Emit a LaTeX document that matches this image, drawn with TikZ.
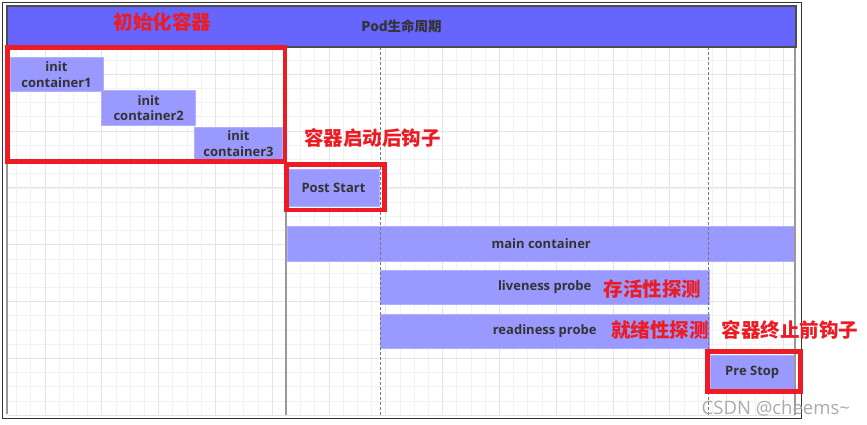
\documentclass[tikz,border=0pt]{standalone}
\usepackage{fontspec}
\setmainfont{Open Sans}
\newfontfamily\barfont{Open Sans}[BoldFont={* Bold}]
\newfontfamily\cjk{Noto Sans CJK SC}
\definecolor{gridminor}{HTML}{F2F2F2}
\definecolor{gridmajor}{HTML}{E4E4E4}
\definecolor{framegrey}{HTML}{333333}
\definecolor{hdrfill}{HTML}{6666FF}
\definecolor{hdrline}{HTML}{4D4D4D}
\definecolor{barfill}{HTML}{9999FF}
\definecolor{barline}{HTML}{B0B0FF}
\definecolor{txtgrey}{HTML}{333333}
\definecolor{vgrey}{HTML}{999999}
\definecolor{dgrey}{HTML}{777777}
\definecolor{redmark}{HTML}{ED1C24}
\definecolor{wmgrey}{HTML}{ABABAB}
\tikzset{
  minorline/.style={gridminor, line width=0.8},
  majorline/.style={gridmajor, line width=1},
  vsolid/.style={vgrey, line width=1.2},
  vdash/.style={dgrey, line width=0.9, dash pattern=on 3pt off 2pt},
  barbox/.style={draw=barline, fill=barfill, line width=0.6, inner sep=0pt,
    text=txtgrey, align=center, font=\barfont\bfseries\fontsize{13}{15.7}\selectfont},
  redbox/.style={draw=redmark, line width=4.7},
  redtext/.style={text=redmark, inner sep=0pt, font=\cjk\bfseries\fontsize{19.5}{21}\selectfont}
}
\begin{document}
\begin{tikzpicture}[x=1pt,y=-1pt]
\useasboundingbox (0,0) rectangle (867,425);
\fill[white] (0,0) rectangle (867,425);
% grid
\begin{scope}
\clip (7,47) rectangle (795,415);
\foreach \i in {0,...,55} {\draw[minorline] ({16.6+14.2*\i},47) -- ++(0,370);}
\foreach \i in {0,...,25} {\draw[minorline] (7,{60.1+14.2*\i}) -- ++(790,0);}
\foreach \i in {0,...,13} {\draw[majorline] ({45+56.8*\i},47) -- ++(0,370);}
\foreach \i in {0,...,6} {\draw[majorline] (7,{74.3+56.8*\i}) -- ++(790,0);}
\end{scope}
% outer frame
\draw[framegrey, line width=1] (2.3,2.7) rectangle (801,418);
% solid vertical lines
\draw[vsolid] (7,47) -- (7,414);
\draw[vsolid] (286,47) -- (286,415);
% bars
\node[barbox, minimum width=93, minimum height=34] (init1) at (56.5,74.5) {init\\container1};
\node[barbox, minimum width=94, minimum height=35] (init2) at (148.7,108) {init\\container2};
\node[barbox, minimum width=88.4, minimum height=32] (init3) at (238.5,143.5) {init\\container3};
\node[barbox, minimum width=91, minimum height=36.7] (post) at (333.5,187.8) {Post Start};
\node[barbox, minimum width=507.7, minimum height=35.3] (main) at (541.2,243.8) {main container};
\node[barbox, minimum width=329.3, minimum height=34.7] (live) at (544.7,287.2) {liveness probe};
\node[barbox, minimum width=329.3, minimum height=34.4] (ready) at (544.7,331) {readiness probe};
\node[barbox, minimum width=84.3, minimum height=34.3] (prestop) at (752.2,372.7) {Pre Stop};
% dashed & right lines on top
\draw[vdash] (380,47) -- (380,415);
\draw[vdash] (708.3,47) -- (708.3,415);
\draw[vsolid] (795,47) -- (795,415);
% header
\node[draw=hdrline, fill=hdrfill, line width=1.2, minimum width=789, minimum height=41, inner sep=0pt,
  text=txtgrey, font=\cjk\bfseries\fontsize{13.5}{15}\selectfont] (hdr) at (401.5,26.5) {Pod生命周期};
% red annotations
\node[redtext] (t1) at (162.3,21.7) {初始化容器};
\node[redtext] (t2) at (372.5,138) {容器启动后钩子};
\node[redtext] (t3) at (652.5,289.3) {存活性探测};
\node[redtext] (t4) at (660,330) {就绪性探测};
\node[redtext] (t5) at (790,330) {容器终止前钩子};
\draw[redbox] (7.7,47.3) rectangle (285,161.7);
\draw[redbox] (286.3,164.7) rectangle (384.3,210);
\draw[redbox] (707.3,351.3) rectangle (800.3,391.7);
% watermark
\node[text=wmgrey, inner sep=0pt, font=\fontsize{18.5}{20}\selectfont] (wm) at (775.8,408.3) {CSDN @cheems\textasciitilde};
\end{tikzpicture}
\end{document}
